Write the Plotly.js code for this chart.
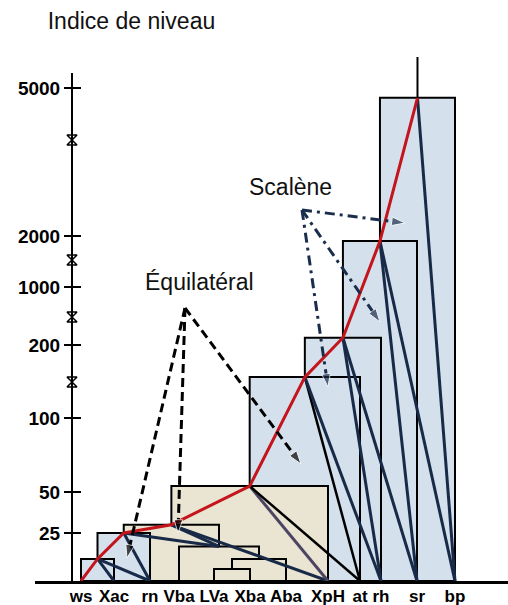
<!DOCTYPE html>
<html><head><meta charset="utf-8">
<script src="https://cdn.plot.ly/plotly-3.0.1.min.js"></script>
<style>html,body{margin:0;padding:0;background:#fff}#chart{width:508px;height:605px}</style>
</head><body><div id="chart"></div>
<script>
// ---------------- DATA ----------------
const leaves   = ['ws','Xac','rn','Vba','LVa','Xba','Aba','XpH','at','rh','sr','bp'];
const leafPos  = [81,114,150,179,214,250,286,328,360,381,417,455];

// merges (topological order): cluster = left child + right child at a level
const clusterNames = ['A','B','G','F','E','C','D','H','I','J','K'];
const clusterLeft  = ['ws','A','LVa','G','Vba','B','C','D','H','I','J'];
const clusterRight = ['Xac','rn','Xba','Aba','F','E','XpH','at','rh','sr','bp'];
const clusterLevel = [11.5,25,6.25,11.5,18,30,54,156,300,1900,4800];
const clusterGroup = ['blue','blue','beige','beige','beige','beige','beige','blue','blue','blue','blue'];

// red path of successive aggregations
const redPath = ['ws','A','B','C','D','H','I','J','K'];

// triangle sides
const segFrom = ['A','A','B','B','C','C','D','D','H','H','I','I','J','J','K'];
const segTo   = ['Xac','rn','rn','E','E','XpH','XpH','at','at','rh','rh','sr','sr','bp','bp'];
const segKind = ['navy','navy','navy','navy','navy','navy','purple','black','black','navy','navy','navy','navy','navy','navy'];

// level axis
const tickValues = [25,50,100,200,1000,2000,5000];
const tickLabels = ['25','50','100','200','1000','2000','5000'];

// ---------------- LAYOUT / STYLE ----------------
const scaleValues = [0,25,50,100,200,1000,2000,5000];
const scalePos    = [0,48,89,163,236,294,345,493];   // broken-scale display positions
const breakPos    = [199,264,321,441];               // axis break marks
const xRange = [35,508], yRange = [0,531];
const axisX = 72, axisTop = 508, stemTop = 524;

function toDisp(v){
  for(let i=1;i<scaleValues.length;i++){
    if(v<=scaleValues[i]){
      const a=scaleValues[i-1], b=scaleValues[i];
      return scalePos[i-1]+(v-a)/(b-a)*(scalePos[i]-scalePos[i-1]);
    }
  }
  return scalePos[scalePos.length-1];
}

const nodeX={}, nodeY={};
leaves.forEach((l,i)=>{nodeX[l]=leafPos[i]; nodeY[l]=0;});
clusterNames.forEach((c,i)=>{
  nodeX[c]=(nodeX[clusterLeft[i]]+nodeX[clusterRight[i]])/2;
  nodeY[c]=toDisp(clusterLevel[i]);
});

const fillCol = {blue:'#d4e0ec', beige:'#e9e5d2'};
const segStyle = {navy:{color:'#182a48',width:3}, purple:{color:'#4b4462',width:3}, black:{color:'#000',width:2.5}};

// boxes: higher levels first
const order = clusterNames.map((c,i)=>i).sort((a,b)=>clusterLevel[b]-clusterLevel[a]);
const shapes = order.map(i=>({
  type:'rect', layer:'below', xref:'x', yref:'y',
  x0:nodeX[clusterLeft[i]], x1:nodeX[clusterRight[i]], y0:0, y1:nodeY[clusterNames[i]],
  fillcolor:fillCol[clusterGroup[i]], line:{color:'#000',width:2}
}));
const P = (axisX-xRange[0])/(xRange[1]-xRange[0]);
shapes.push({type:'line', xref:'paper', yref:'y', x0:P, x1:P, y0:0, y1:axisTop, line:{color:'#000',width:2}});
shapes.push({type:'line', xref:'x', yref:'y', x0:nodeX['K'], x1:nodeX['K'], y0:nodeY['K'], y1:stemTop, line:{color:'#000',width:2}});

const traces=[];
segFrom.forEach((f,i)=>{
  const t=segTo[i];
  traces.push({type:'scatter',mode:'lines',x:[nodeX[f],nodeX[t]],y:[nodeY[f],nodeY[t]],
    line:segStyle[segKind[i]],hoverinfo:'skip',showlegend:false});
});
traces.push({type:'scatter',mode:'lines',x:redPath.map(n=>nodeX[n]),y:redPath.map(n=>nodeY[n]),
  line:{color:'#c4141c',width:3},hoverinfo:'skip',showlegend:false});

// annotation arrows
const equiOrigin=[185,273], equiTips=[[127,23],[178,48],[301,117]];
const scalOrigin=[302,371], scalTips=[[405,358],[380,259],[328,194]];
function arrow(o,t,color,dash){
  return {type:'scatter',mode:'lines+markers',x:[o[0],t[0]],y:[o[1],t[1]],
    line:{color:color,width:3,dash:dash},
    marker:{symbol:['circle','arrow'],size:[0,14],angleref:'previous',color:color},
    hoverinfo:'skip',showlegend:false,cliponaxis:false};
}
equiTips.forEach(t=>traces.push(arrow(equiOrigin,t,'#000','9px,5px')));
scalTips.forEach(t=>traces.push(arrow(scalOrigin,t,'#1b2d4c','10px,5px,3px,5px')));

// axis break marks
traces.push({type:'scatter',mode:'markers',x:breakPos.map(()=>axisX),y:breakPos,
  marker:{symbol:'hourglass-open',size:10,color:'#000',line:{width:1.5,color:'#000'}},
  hoverinfo:'skip',showlegend:false,cliponaxis:false});
// carrier for inner ticks axis
traces.push({type:'scatter',mode:'markers',x:[null],y:[null],yaxis:'y2',hoverinfo:'skip',showlegend:false});

const tickPosDisp = tickValues.map(toDisp);
const font = 'Liberation Sans, Arial, sans-serif';
const layout = {
  width:508, height:605, margin:{l:35,r:0,t:50,b:24},
  paper_bgcolor:'#fff', plot_bgcolor:'#fff', showlegend:false,
  title:{text:'Indice de niveau', x:131.5/508, xanchor:'center', xref:'container', y:1-21/605, yanchor:'middle', yref:'container',
    font:{family:font,size:23,color:'#111'}},
  xaxis:{range:xRange, showgrid:false, zeroline:false, showline:true, linewidth:2.5, linecolor:'#000',
    ticks:'', ticklen:0, tickangle:0, ticklabelstandoff:-2, ticklabeloverflow:'allow', tickvals:leafPos, ticktext:leaves,
    tickfont:{family:font,size:17,color:'#000',weight:'bold'}, automargin:false, fixedrange:true},
  yaxis:{range:yRange, anchor:'free', position:P, side:'left', showgrid:false, zeroline:false, showline:false,
    ticks:'outside', ticklen:8, tickwidth:2, tickcolor:'#000', tickvals:tickPosDisp, ticktext:tickLabels,
    tickfont:{family:font,size:19,color:'#000',weight:'bold'}, automargin:false, fixedrange:true},
  yaxis2:{range:yRange, overlaying:'y', anchor:'free', position:P, side:'left', showgrid:false, zeroline:false,
    showline:false, ticks:'inside', ticklen:8, tickwidth:2, tickcolor:'#000', tickvals:tickPosDisp,
    showticklabels:false, automargin:false, fixedrange:true},
  shapes:shapes,
  annotations:[
    {text:'Équilatéral', x:199, y:299, xref:'x', yref:'y', showarrow:false, font:{family:font,size:23,color:'#111'}},
    {text:'Scalène', x:290, y:394, xref:'x', yref:'y', showarrow:false, font:{family:font,size:23,color:'#111'}}
  ]
};
Plotly.newPlot('chart', traces, layout, {staticPlot:true, displayModeBar:false});
</script></body></html>
